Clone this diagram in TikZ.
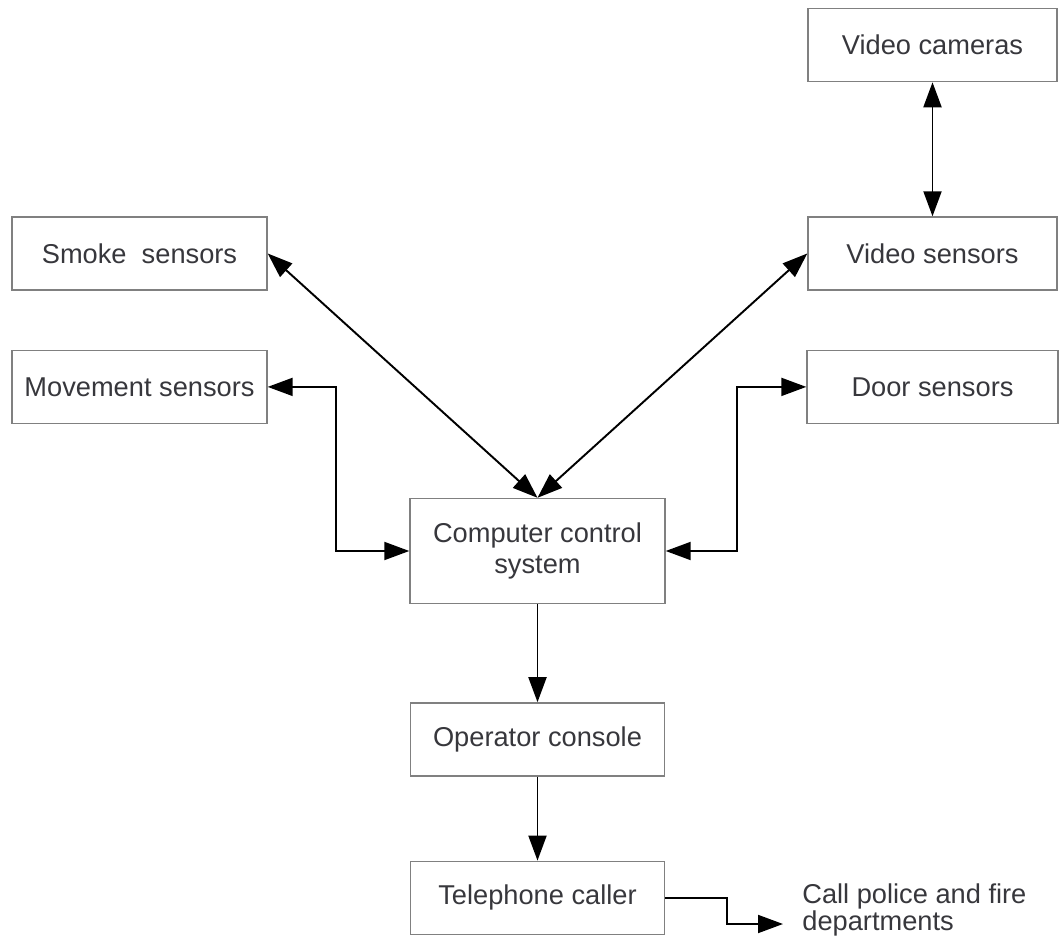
\documentclass[tikz,border=0pt]{standalone}
\usepackage{fontspec}
\setmainfont{Liberation Sans}
\usepackage{tikz}
\usetikzlibrary{positioning}
\usetikzlibrary{arrows.meta}
\definecolor{boxgray}{RGB}{128,128,128}
\definecolor{txtgray}{RGB}{55,55,60}
\begin{document}
\begin{tikzpicture}
        [block/.style={draw=boxgray, line width=0.8pt, rectangle, minimum width=5.04cm, minimum height=1.46cm,
                       text=txtgray, align=center, font=\fontsize{15.5}{18}\selectfont},
         link/.style={line width=1.1pt, -{Triangle[length=0.5cm,width=0.36cm]}},
         both/.style={line width=1.1pt, {Triangle[length=0.5cm,width=0.36cm]}-{Triangle[length=0.5cm,width=0.36cm]}}]
      \useasboundingbox (0,0) rectangle (21.18,-18.74);
      \node[block, minimum width=5.1cm, minimum height=2.1cm]  (Comp) at (10.75,-11.02) {Computer control\\system};
      \node[block, minimum width=5.08cm]  (Op)  [below=1.96cm of Comp] {Operator console};
      \node[block, minimum width=5.08cm]  (Tel) [below=1.68cm of Op] {Telephone caller};
      \node[block, minimum width=5.1cm]   (Smoke) at (2.79,-5.07) {Smoke~ sensors};
      \node[block, minimum width=5.1cm]   (Move)  [below=1.18cm of Smoke] {Movement sensors};
      \node[block, minimum width=4.98cm]  (VSens) at (18.65,-5.07) {Video sensors};
      \node[block, minimum width=4.98cm]  (VCam)  [above=2.68cm of VSens] {Video cameras};
      \node[block, minimum width=5.02cm]  (Door)  [below=1.18cm of VSens] {Door sensors};
      \node[text=txtgray, align=left, anchor=west, inner sep=0pt, font=\fontsize{15.5}{15}\selectfont]
            (Call) at (16.04,-18.2) {Call police and fire\\departments};
      \coordinate (CallTip) at (15.66,-18.48);
      \path [both] (VCam) edge (VSens);
      \path [both] (Smoke.east) edge (Comp.north);
      \path [both] (VSens.west) edge (Comp.north);
      \draw [both] (Comp.west) -- ++(-1.46,0) |- (Move.east);
      \draw [both] (Comp.east) -- ++(1.42,0) |- (Door.west);
      \path [link] (Comp) edge (Op);
      \path [link] (Op) edge (Tel);
      \draw [link] (Tel.east) -- ++(1.24,0) |- (CallTip);
      \end{tikzpicture}
\end{document}
